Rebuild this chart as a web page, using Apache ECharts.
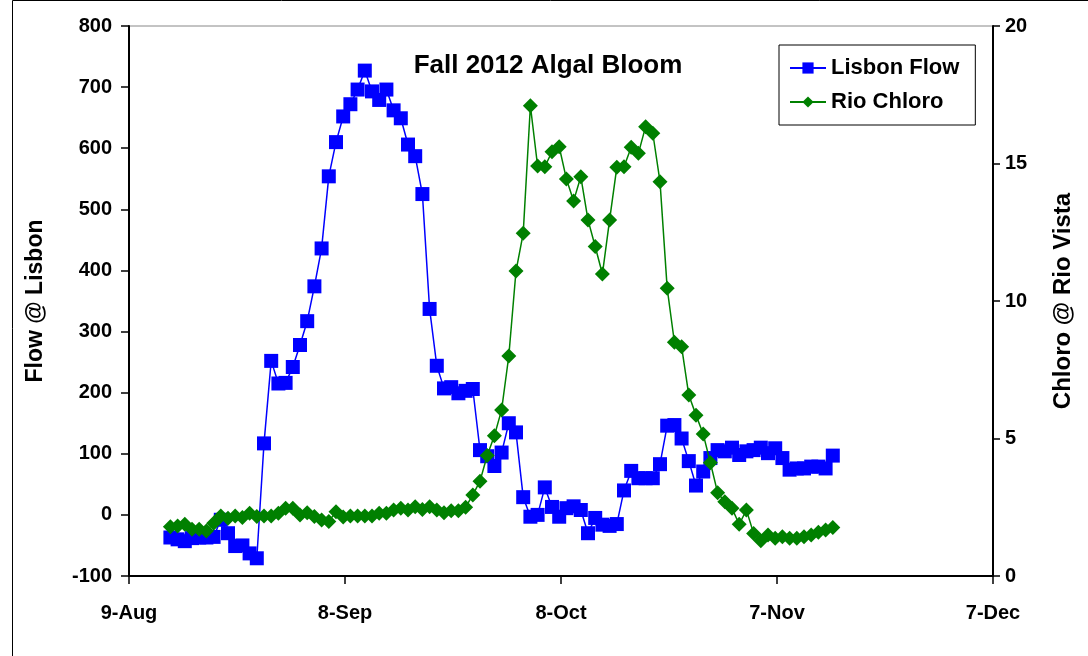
<!DOCTYPE html>
<html>
<head>
<meta charset="utf-8">
<script src="https://cdn.jsdelivr.net/npm/echarts@6/dist/echarts.min.js"></script>
<style>
html,body{margin:0;padding:0;background:#fff;}
#chart{width:1088px;height:656px;}
</style>
</head>
<body>
<div id="chart"></div>
<script>
// x tick labels (every 30 days from 9-Aug-2012)
const xTickLabels = ['9-Aug', '8-Sep', '8-Oct', '7-Nov', '7-Dec'];
// first sample: days after 9-Aug
const startDay = 5.75;
// Lisbon flow (daily)
const lisbonFlow = [-37,-40,-43,-38,-37,-37,-36,-8,-30,-51,-50,-63,-71,
  117,252,215,216,242,278,317,374,436,554,610,652,672,696,727,693,679,696,662,649,606,587,525,337,244,207,
  209,199,203,206,106,96,80,102,150,135,
  29,-3,0,45,13,-3,11,14,8,-30,
  -5,-16,-18,-15,40,72,60,60,60,83,
  146,147,125,88,48,71,93,106,104,110,
  98,104,106,110,101,109,93,74,76,76,
  79,79,76,97];
// Rio Vista chlorophyll (daily)
const rioChloro = [1.79,1.82,1.88,1.70,1.70,1.64,1.92,2.18,2.10,2.18,2.13,2.28,2.16,2.18,2.18,2.28,2.46,2.46,2.22,2.30,
  2.16,2.04,1.98,2.34,2.15,2.18,2.18,2.18,2.18,2.28,2.28,2.40,2.46,2.40,2.52,2.42,2.52,2.40,2.30,2.37,
  2.37,2.50,2.95,3.45,4.38,5.10,6.04,8.00,11.09,12.46,17.10,14.91,14.88,15.43,15.61,14.44,13.64,14.52,12.95,11.98,
  10.98,12.95,14.86,14.88,15.59,15.37,16.34,16.10,14.34,10.46,8.50,8.34,6.58,5.85,5.16,4.12,3.03,2.70,2.46,1.88,
  2.40,1.55,1.28,1.49,1.37,1.43,1.37,1.37,1.43,1.49,1.59,1.67,1.76];

const flowData = lisbonFlow.map((v, i) => [startDay + i, v]);
const chloroData = rioChloro.map((v, i) => [startDay + i, v]);

const FONT = 'Liberation Sans, Arial, sans-serif';
const chart = echarts.init(document.getElementById('chart'), null, {renderer: 'canvas'});
chart.setOption({
  animation: false,
  backgroundColor: '#fff',
  title: {
    text: 'Fall 2012 Algal Bloom',
    left: 543, top: 48, textAlign: 'center',
    textStyle: {fontFamily: FONT, fontWeight: 'bold', fontSize: 26, color: '#000'}
  },
  legend: {
    orient: 'vertical',
    left: 779, top: 45,
    padding: [12, 16, 12, 10],
    itemGap: 12,
    itemWidth: 36, itemHeight: 14,
    borderColor: '#000', borderWidth: 1,
    backgroundColor: '#fff',
    textStyle: {fontFamily: FONT, fontWeight: 'bold', fontSize: 22, color: '#000'},
    data: ['Lisbon Flow', 'Rio Chloro']
  },
  grid: {left: 129, right: 95, top: 26, bottom: 80, show: true, borderColor: '#888', borderWidth: 1, containLabel: false},
  xAxis: {
    type: 'value', min: 0, max: 120, interval: 30,
    axisLine: {onZero: false, lineStyle: {color: '#000', width: 2}},
    axisTick: {length: 8, lineStyle: {color: '#000', width: 1.5}},
    splitLine: {show: false},
    axisLabel: {
      margin: 27,
      fontFamily: FONT, fontWeight: 'bold', fontSize: 20, color: '#000',
      formatter: v => xTickLabels[Math.round(v / 30)]
    }
  },
  yAxis: [
    {
      type: 'value', min: -100, max: 800, interval: 100, position: 'left',
      name: 'Flow @ Lisbon', nameLocation: 'middle', nameRotate: 90, nameGap: 82,
      nameTextStyle: {fontFamily: FONT, fontWeight: 'bold', fontSize: 23, color: '#000'},
      axisLine: {show: true, onZero: false, lineStyle: {color: '#000', width: 2}},
      axisTick: {show: true, length: 8, lineStyle: {color: '#000', width: 1.5}},
      splitLine: {show: false},
      axisLabel: {margin: 17, fontFamily: FONT, fontWeight: 'bold', fontSize: 20, color: '#000'}
    },
    {
      type: 'value', min: 0, max: 20, interval: 5, position: 'right',
      name: 'Chloro @ Rio Vista', nameLocation: 'middle', nameRotate: 90, nameGap: 58,
      nameTextStyle: {fontFamily: FONT, fontWeight: 'bold', fontSize: 24, color: '#000'},
      axisLine: {show: true, onZero: false, lineStyle: {color: '#000', width: 2}},
      axisTick: {show: true, length: 7, lineStyle: {color: '#000', width: 1.5}},
      splitLine: {show: false},
      axisLabel: {margin: 12, fontFamily: FONT, fontWeight: 'bold', fontSize: 20, color: '#000'}
    }
  ],
  series: [
    {
      name: 'Lisbon Flow', type: 'line', yAxisIndex: 0, data: flowData,
      symbol: 'rect', symbolSize: 14,
      lineStyle: {color: '#0000FF', width: 1.5},
      itemStyle: {color: '#0000FF'},
      z: 2
    },
    {
      name: 'Rio Chloro', type: 'line', yAxisIndex: 1, data: chloroData,
      symbol: 'diamond', symbolSize: 15,
      lineStyle: {color: '#008000', width: 1.5},
      itemStyle: {color: '#008000'},
      z: 3
    }
  ],
  graphic: [{
    type: 'rect', left: 10, top: -2, shape: {width: 1090, height: 670},
    style: {fill: null, stroke: '#000', lineWidth: 1}, silent: true
  }]
});
</script>
</body>
</html>
